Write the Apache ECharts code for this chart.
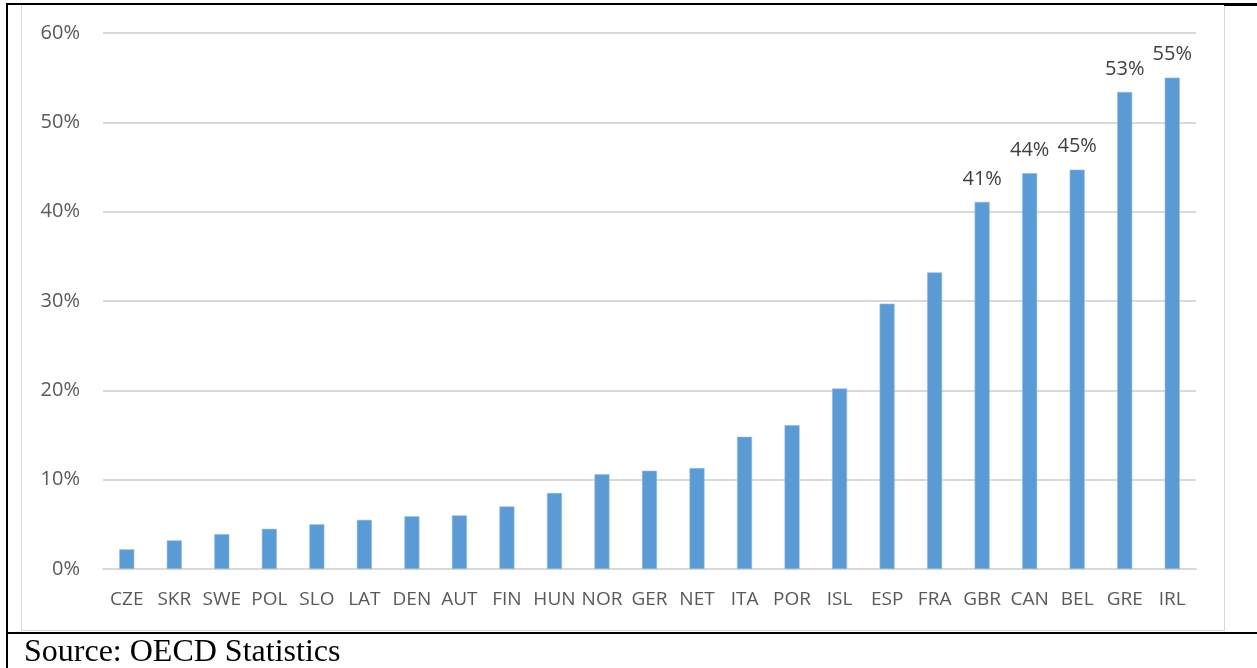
<!DOCTYPE html>
<html>
<head>
<meta charset="utf-8">
<script src="https://cdn.jsdelivr.net/npm/echarts@6/dist/echarts.min.js"></script>
<style>
  html, body { margin: 0; padding: 0; background: #fff; }
  #page { position: relative; width: 1257px; height: 668px; overflow: hidden; }
  #chart { position: absolute; left: 0; top: 0; width: 1257px; height: 668px; }
  .rule { position: absolute; background: #000; }
  #box { position: absolute; left: 21px; top: 4px; width: 1202px; height: 625px; border: 1px solid #d9d9d9; }
  #source { position: absolute; left: 24px; top: 634px; font-family: "Liberation Serif", "Times New Roman", serif;
            font-size: 32px; line-height: 32px; color: #000; white-space: nowrap; }
</style>
</head>
<body>
<div id="page">
  <div id="box"></div>
  <div id="chart"></div>
  <div class="rule" style="left:6px; top:3px; width:1251px; height:2px;"></div>
  <div class="rule" style="left:1224px; top:3px; width:33px; height:3px;"></div>
  <div class="rule" style="left:6px; top:3px; width:2px; height:665px;"></div>
  <div class="rule" style="left:6px; top:632px; width:1251px; height:2px;"></div>
  <div id="source">Source: OECD Statistics</div>
</div>
<script>
// Country codes, ordered by share
const countries = ['CZE', 'SKR', 'SWE', 'POL', 'SLO', 'LAT', 'DEN', 'AUT', 'FIN', 'HUN', 'NOR', 'GER',
                   'NET', 'ITA', 'POR', 'ISL', 'ESP', 'FRA', 'GBR', 'CAN', 'BEL', 'GRE', 'IRL'];
// Share in percent
const shares = [2.2, 3.2, 3.9, 4.5, 5.0, 5.5, 5.9, 6.0, 7.0, 8.5, 10.6, 11.0,
                11.3, 14.8, 16.1, 20.2, 29.7, 33.2, 41.1, 44.3, 44.7, 53.4, 55.0];
// Countries whose bars carry a value label
const labelled = ['GBR', 'CAN', 'BEL', 'GRE', 'IRL'];
// Y axis ticks (percent)
const yTicks = [0, 10, 20, 30, 40, 50, 60];

const font = '"Open Sans", "Liberation Sans", sans-serif';

const chart = echarts.init(document.getElementById('chart'), null, { renderer: 'canvas' });
chart.setOption({
  animation: false,
  backgroundColor: 'transparent',
  grid: { left: 103, right: 61, top: 33, bottom: 99, containLabel: false },
  xAxis: {
    type: 'category',
    data: countries,
    boundaryGap: true,
    axisLine: { show: true, lineStyle: { color: '#d9d9d9', width: 2 } },
    axisTick: { show: false },
    axisLabel: { color: '#595959', fontFamily: font, fontSize: 19, margin: 21, interval: 0, lineHeight: 20 }
  },
  yAxis: {
    type: 'value',
    min: yTicks[0],
    max: yTicks[yTicks.length - 1],
    interval: yTicks[1] - yTicks[0],
    axisLine: { show: false },
    axisTick: { show: false },
    splitLine: { lineStyle: { color: '#d9d9d9', width: 2 } },
    axisLabel: { color: '#595959', fontFamily: font, fontSize: 20, margin: 23, formatter: '{value}%' }
  },
  series: [{
    type: 'bar',
    barWidth: 15,
    data: shares.map((v, i) => ({
      value: v,
      label: { show: labelled.includes(countries[i]) }
    })),
    itemStyle: { color: '#5b9bd5', borderColor: '#8fbbe3', borderWidth: 0.6 },
    label: {
      position: 'top',
      distance: 13,
      color: '#404040',
      fontFamily: font,
      fontSize: 20,
      formatter: p => Math.round(p.value) + '%'
    }
  }]
});
</script>
</body>
</html>
